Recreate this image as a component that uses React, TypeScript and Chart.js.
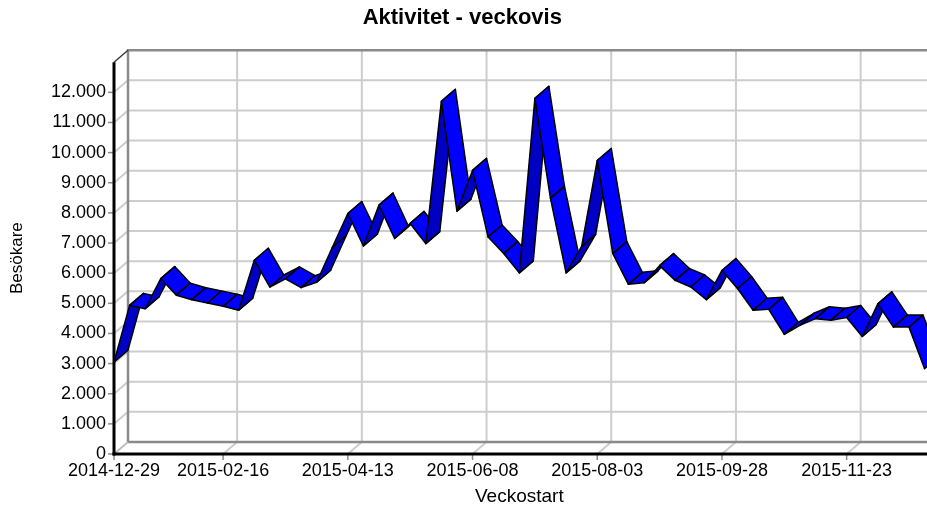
import React, { useEffect, useRef } from "react";
import { Chart, registerables } from "chart.js";

Chart.register(...registerables);

const weeks: string[] = [
  "2014-12-29", "2015-01-05", "2015-01-12", "2015-01-19", "2015-01-26",
  "2015-02-02", "2015-02-09", "2015-02-16", "2015-02-23", "2015-03-02",
  "2015-03-09", "2015-03-16", "2015-03-23", "2015-03-30", "2015-04-06",
  "2015-04-13", "2015-04-20", "2015-04-27", "2015-05-04", "2015-05-11",
  "2015-05-18", "2015-05-25", "2015-06-01", "2015-06-08", "2015-06-15",
  "2015-06-22", "2015-06-29", "2015-07-06", "2015-07-13", "2015-07-20",
  "2015-07-27", "2015-08-03", "2015-08-10", "2015-08-17", "2015-08-24",
  "2015-08-31", "2015-09-07", "2015-09-14", "2015-09-21", "2015-09-28",
  "2015-10-05", "2015-10-12", "2015-10-19", "2015-10-26", "2015-11-02",
  "2015-11-09", "2015-11-16", "2015-11-23", "2015-11-30", "2015-12-07",
  "2015-12-14", "2015-12-21", "2015-12-28",
];

const visitors: number[] = [
  3050, 4930, 4820, 5820, 5270, 5120, 5010, 4900, 4770, 6430,
  5540, 5810, 5520, 5700, 6850, 7980, 6900, 8260, 7150, 7650,
  6980, 11700, 8060, 9410, 7200, 6650, 6010, 11800, 8480, 6010,
  6890, 9740, 6650, 5630, 5680, 6250, 5760, 5540, 5120, 6090,
  5490, 4770, 4800, 3970, 4270, 4490, 4440, 4530, 3900, 4980,
  4210, 4210, 2830,
];

const shownWeekLabels: string[] = [
  "2014-12-29", "2015-02-16", "2015-04-13", "2015-06-08",
  "2015-08-03", "2015-09-28", "2015-11-23",
];

const yGridValues: number[] = [
  0, 1000, 2000, 3000, 4000, 5000, 6000, 7000, 8000, 9000, 10000, 11000, 12000,
];

const TITLE = "Aktivitet - veckovis";
const X_TITLE = "Veckostart";
const Y_TITLE = "Besökare";

const DX = 14;
const DY = 12;
const FONT = "'Liberation Sans', Arial, sans-serif";

function formatThousands(v: number): string {
  if (v === 0) return "0";
  const s = String(Math.round(v));
  return s.replace(/\B(?=(\d{3})+(?!\d))/g, ".");
}

const ribbonPlugin = {
  id: "ribbon3d",
  beforeDatasetsDraw(chart: any) {
    const { ctx, chartArea, scales } = chart;
    const { left, right, top, bottom } = chartArea;
    const x = scales.x;
    const y = scales.y;
    ctx.save();
    ctx.lineCap = "butt";

    // back wall horizontal grid + left wall diagonals
    ctx.strokeStyle = "#cdcdcd";
    ctx.lineWidth = 2;
    for (const v of yGridValues) {
      if (v === 0) continue;
      const py = y.getPixelForValue(v);
      ctx.beginPath();
      ctx.moveTo(left + DX, py - DY);
      ctx.lineTo(right + DX + 40, py - DY);
      ctx.stroke();
      ctx.beginPath();
      ctx.moveTo(left, py);
      ctx.lineTo(left + DX, py - DY);
      ctx.stroke();
    }
    // back wall vertical grid + floor diagonals
    for (const lab of shownWeekLabels) {
      const idx = weeks.indexOf(lab);
      if (idx <= 0) continue;
      const px = x.getPixelForValue(idx);
      ctx.beginPath();
      ctx.moveTo(px + DX, top - DY);
      ctx.lineTo(px + DX, bottom - DY);
      ctx.stroke();
      ctx.beginPath();
      ctx.moveTo(px, bottom);
      ctx.lineTo(px + DX, bottom - DY);
      ctx.stroke();
    }

    // back wall borders
    ctx.strokeStyle = "#8a8a8a";
    ctx.lineWidth = 2.5;
    ctx.beginPath();
    ctx.moveTo(right + DX + 40, top - DY);
    ctx.lineTo(left + DX, top - DY);
    ctx.lineTo(left + DX, bottom - DY);
    ctx.lineTo(right + DX + 40, bottom - DY);
    ctx.stroke();

    // floor left diagonal
    ctx.strokeStyle = "#bdbdbd";
    ctx.lineWidth = 2;
    ctx.beginPath();
    ctx.moveTo(left, bottom);
    ctx.lineTo(left + DX, bottom - DY);
    ctx.stroke();

    // top-left diagonal edge
    ctx.strokeStyle = "#3a3a3a";
    ctx.lineWidth = 1.5;
    ctx.beginPath();
    ctx.moveTo(left, top);
    ctx.lineTo(left + DX, top - DY);
    ctx.stroke();

    // front tick marks
    ctx.strokeStyle = "#8a8a8a";
    ctx.lineWidth = 1.5;
    for (const v of yGridValues) {
      const py = y.getPixelForValue(v);
      ctx.beginPath();
      ctx.moveTo(left - 6, py);
      ctx.lineTo(left, py);
      ctx.stroke();
    }
    for (const lab of shownWeekLabels) {
      const idx = weeks.indexOf(lab);
      const px = x.getPixelForValue(idx);
      ctx.beginPath();
      ctx.moveTo(px, bottom);
      ctx.lineTo(px, bottom + 6);
      ctx.stroke();
    }

    // front axes
    ctx.strokeStyle = "#000";
    ctx.lineWidth = 3;
    ctx.beginPath();
    ctx.moveTo(left, top);
    ctx.lineTo(left, bottom + 1.5);
    ctx.stroke();
    ctx.beginPath();
    ctx.moveTo(left - 1.5, bottom);
    ctx.lineTo(right + DX + 40, bottom);
    ctx.stroke();
    ctx.restore();
  },
  afterDatasetsDraw(chart: any) {
    const { ctx } = chart;
    const pts = chart.getDatasetMeta(0).data;
    ctx.save();
    ctx.lineJoin = "round";
    ctx.lineWidth = 1.5;
    ctx.strokeStyle = "#000";
    for (let i = 0; i < pts.length - 1; i++) {
      const a = pts[i];
      const b = pts[i + 1];
      const dxs = b.x - a.x;
      const rise = a.y - b.y;
      const cross = -dxs * DY + rise * DX;
      ctx.fillStyle = cross > 0 ? "#0000c4" : "#0000ff";
      ctx.beginPath();
      ctx.moveTo(a.x, a.y);
      ctx.lineTo(b.x, b.y);
      ctx.lineTo(b.x + DX, b.y - DY);
      ctx.lineTo(a.x + DX, a.y - DY);
      ctx.closePath();
      ctx.fill();
      ctx.stroke();
    }
    ctx.restore();
  },
};

export default function App() {
  const canvasRef = useRef<HTMLCanvasElement | null>(null);

  useEffect(() => {
    const canvas = canvasRef.current;
    if (!canvas) return;
    const chart = new Chart(canvas, {
      type: "line",
      data: {
        labels: weeks,
        datasets: [
          {
            label: Y_TITLE,
            data: visitors,
            showLine: false,
            borderWidth: 0,
            pointRadius: 0,
            pointHoverRadius: 0,
          },
        ],
      },
      options: {
        animation: false,
        responsive: false,
        devicePixelRatio: 1,
        events: [],
        layout: { padding: { left: 0, right: 27.4, top: 0, bottom: 0 } },
        plugins: {
          legend: { display: false },
          tooltip: { enabled: false },
          title: {
            display: true,
            text: TITLE,
            color: "#000",
            font: { family: FONT, size: 22, weight: "bold", lineHeight: 1.2 },
            padding: { top: 5, bottom: 30.8 },
          },
        },
        scales: {
          x: {
            type: "category",
            offset: false,
            grid: { display: false, drawTicks: false, tickLength: 0 },
            border: { display: false },
            ticks: {
              autoSkip: false,
              maxRotation: 0,
              minRotation: 0,
              padding: 6,
              color: "#000",
              font: { family: FONT, size: 18 },
              callback: (_v: any, idx: number) =>
                shownWeekLabels.includes(weeks[idx]) ? weeks[idx] : "",
            },
            title: {
              display: true,
              text: X_TITLE,
              color: "#000",
              font: { family: FONT, size: 19, lineHeight: 1 },
              padding: { top: 0, bottom: 0 },
            },
            afterFit: (scale: any) => {
              scale.height = 52;
            },
          },
          y: {
            min: 0,
            max: 13000,
            grid: { display: false, drawTicks: false, tickLength: 0 },
            border: { display: false },
            ticks: {
              stepSize: 1000,
              padding: 8,
              color: "#000",
              font: { family: FONT, size: 18 },
              callback: (v: any) => (Number(v) > 12000 ? "" : formatThousands(Number(v))),
            },
            title: {
              display: true,
              text: Y_TITLE,
              color: "#000",
              font: { family: FONT, size: 17, lineHeight: 1 },
              padding: { top: 9, bottom: 0 },
            },
            afterFit: (scale: any) => {
              scale.width = 114;
            },
          },
        },
      },
      plugins: [ribbonPlugin],
    });
    return () => chart.destroy();
  }, []);

  return (
    <div
      style={{
        position: "fixed",
        left: 0,
        top: 0,
        width: 927,
        height: 506,
        overflow: "hidden",
        background: "#fff",
      }}
    >
      <canvas ref={canvasRef} width={952} height={506} style={{ display: "block" }} />
    </div>
  );
}
